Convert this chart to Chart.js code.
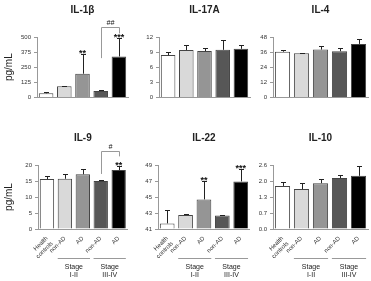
<!DOCTYPE html>
<html>
<head>
<meta charset="utf-8">
<script src="https://cdn.jsdelivr.net/npm/chart.js@4.4.1/dist/chart.umd.min.js"></script>
<style>
    body { margin: 0; background: #fff; }
    #wrap { position: relative; width: 371px; height: 281px; overflow: hidden; }
    canvas { position: absolute; }
</style>
</head>
<body>
<div id="wrap">
    <canvas id="c1"></canvas>
    <canvas id="c2"></canvas>
    <canvas id="c3"></canvas>
    <canvas id="c4"></canvas>
    <canvas id="c5"></canvas>
    <canvas id="c6"></canvas>
</div>
<script>
// Categories (same for every panel)
const categories = [['Health', 'controls'], 'non-AD', 'AD', 'non-AD', 'AD'];
const stageGroups = [
    { from: 1, to: 2, label: ['Stage', 'I-II'] },
    { from: 3, to: 4, label: ['Stage', 'III-IV'] }
];

// IL-1β
const il1bMean = [34, 93, 196, 53, 339];
const il1bErr = [48, 98, 357, 61, 489];
const il1bTicks = [0, 125, 250, 375, 500];
const il1bStars = ['', '', '**', '', '***'];

// IL-17A
const il17aMean = [8.4, 9.4, 9.2, 9.45, 9.65];
const il17aErr = [9.0, 10.35, 9.8, 11.4, 10.4];
const il17aTicks = [0, 3, 6, 9, 12];

// IL-4
const il4Mean = [36.3, 35.0, 38.0, 36.7, 42.5];
const il4Err = [37.8, 35.4, 40.5, 39.5, 46.7];
const il4Ticks = [0, 12, 24, 36, 48];

// IL-9
const il9Mean = [15.6, 15.7, 17.1, 15.0, 18.4];
const il9Err = [16.6, 17.1, 18.6, 15.2, 19.7];
const il9Ticks = [0, 5, 10, 15, 20];
const il9Stars = ['', '', '', '', '**'];

// IL-22
const il22Mean = [41.7, 42.75, 44.7, 42.7, 46.95];
const il22Err = [43.4, 42.87, 47.05, 42.8, 48.5];
const il22Ticks = [41, 43, 45, 47, 49];
const il22Stars = ['', '', '**', '', '***'];

// IL-10
const il10Mean = [1.75, 1.62, 1.86, 2.07, 2.16];
const il10Err = [1.91, 1.86, 2.02, 2.2, 2.56];
const il10Ticks = [0, 0.65, 1.3, 1.95, 2.6];
const il10TickLabels = ['0.0', '0.7', '1.3', '2.0', '2.6'];

// Significance brackets (in data units)
const il1bBracket = { from: 3, to: 4, top: 580, leftEnd: 325, rightEnd: 530, label: '##' };
const il9Bracket = { from: 3, to: 4, top: 24.3, leftEnd: 17.2, rightEnd: 22.7, label: '#' };

const barColors = ['#ffffff', '#d9d9d9', '#959595', '#575757', '#000000'];
const FONT = "'Liberation Sans', Arial, sans-serif";

// Panel layout
const panels = [
    { id: 'c1', left: 0, top: 0, width: 130, axisW: 37, padR: 2, bottomRow: false, yTitle: 'pg/mL',
      title: 'IL-1β', means: il1bMean, errs: il1bErr, ticks: il1bTicks, stars: il1bStars, bracket: il1bBracket },
    { id: 'c2', left: 122, top: 0, width: 130, axisW: 37, padR: 2, bottomRow: false,
      title: 'IL-17A', means: il17aMean, errs: il17aErr, ticks: il17aTicks },
    { id: 'c3', left: 245, top: 0, width: 126, axisW: 28, padR: 3, bottomRow: false,
      title: 'IL-4', means: il4Mean, errs: il4Err, ticks: il4Ticks },
    { id: 'c4', left: 0, top: 128, width: 130, axisW: 38, padR: 1, bottomRow: true, yTitle: 'pg/mL',
      title: 'IL-9', means: il9Mean, errs: il9Err, ticks: il9Ticks, stars: il9Stars, bracket: il9Bracket },
    { id: 'c5', left: 122, top: 128, width: 130, axisW: 36, padR: 2, bottomRow: true,
      title: 'IL-22', means: il22Mean, errs: il22Err, ticks: il22Ticks, stars: il22Stars },
    { id: 'c6', left: 245, top: 128, width: 126, axisW: 28, padR: 3, bottomRow: true,
      title: 'IL-10', means: il10Mean, errs: il10Err, ticks: il10Ticks, tickLabels: il10TickLabels }
];

// Error bars, stars, brackets and stage groups
const extrasPlugin = {
    id: 'extras',
    afterDatasetsDraw(chart, args, o) {
        const ctx = chart.ctx;
        const yScale = chart.scales.y;
        const bars = chart.getDatasetMeta(0).data;
        ctx.save();
        ctx.strokeStyle = '#222';
        ctx.lineWidth = 1;

        bars.forEach((bar, i) => {
            const x = Math.round(bar.x) + 0.5;
            const yTop = Math.round(yScale.getPixelForValue(o.errs[i])) + 0.5;
            ctx.beginPath();
            ctx.moveTo(x, bar.y);
            ctx.lineTo(x, yTop);
            ctx.moveTo(x - 2.5, yTop);
            ctx.lineTo(x + 2.5, yTop);
            ctx.stroke();

            if (o.stars && o.stars[i]) {
                ctx.fillStyle = '#111';
                ctx.font = 'bold 9px ' + FONT;
                ctx.textAlign = 'center';
                ctx.textBaseline = 'alphabetic';
                ctx.fillText(o.stars[i], bar.x, yTop + 1);
            }
        });

        if (o.bracket) {
            const b = o.bracket;
            const xa = Math.round(bars[b.from].x) + 0.5;
            const xb = Math.round(bars[b.to].x) + 0.5;
            const yt = Math.round(yScale.getPixelForValue(b.top)) + 0.5;
            ctx.strokeStyle = '#999';
            ctx.beginPath();
            ctx.moveTo(xa, yScale.getPixelForValue(b.leftEnd));
            ctx.lineTo(xa, yt);
            ctx.lineTo(xb, yt);
            ctx.lineTo(xb, yScale.getPixelForValue(b.rightEnd));
            ctx.stroke();
            ctx.fillStyle = '#111';
            ctx.font = 'italic 7px ' + FONT;
            ctx.textAlign = 'center';
            ctx.textBaseline = 'bottom';
            ctx.fillText(b.label, (xa + xb) / 2, yt - 1);
        }

        if (o.groups) {
            const base = chart.chartArea.bottom;
            o.groups.forEach(g => {
                const a = bars[g.from], c = bars[g.to];
                const x1 = a.x - a.width / 2;
                const x2 = c.x + c.width / 2;
                const yl = Math.round(base + 29) + 0.5;
                ctx.strokeStyle = '#999';
                ctx.beginPath();
                ctx.moveTo(x1, yl);
                ctx.lineTo(x2, yl);
                ctx.stroke();
                ctx.fillStyle = '#222';
                ctx.font = '7px ' + FONT;
                ctx.textAlign = 'center';
                ctx.textBaseline = 'middle';
                ctx.fillText(g.label[0], (x1 + x2) / 2, base + 38);
                ctx.fillText(g.label[1], (x1 + x2) / 2, base + 46);
            });
        }
        ctx.restore();
    }
};

function makePanel(p) {
    const canvas = document.getElementById(p.id);
    const height = p.bottomRow ? 153 : 104;
    canvas.width = p.width;
    canvas.height = height;
    canvas.style.left = p.left + 'px';
    canvas.style.top = p.top + 'px';

    const tickLabels = p.tickLabels || p.ticks.map(String);
    const yMin = p.ticks[0];
    const yMax = p.ticks[p.ticks.length - 1];

    new Chart(canvas, {
        type: 'bar',
        data: {
            labels: categories,
            datasets: [{
                data: p.means,
                base: yMin,
                backgroundColor: barColors,
                borderColor: '#444',
                borderWidth: 1,
                categoryPercentage: 1,
                barPercentage: 0.8
            }]
        },
        options: {
            responsive: false,
            animation: false,
            layout: { padding: { left: 0, right: p.padR, top: 0, bottom: 0 } },
            plugins: {
                legend: { display: false },
                tooltip: { enabled: false },
                title: {
                    display: true,
                    text: p.title,
                    fullSize: false,
                    color: '#222',
                    font: { family: FONT, size: 10, weight: 'bold' },
                    padding: { top: 4, bottom: 21 }
                },
                extras: {
                    errs: p.errs,
                    stars: p.stars,
                    bracket: p.bracket,
                    groups: p.bottomRow ? stageGroups : null
                }
            },
            scales: {
                x: {
                    grid: { display: false, drawTicks: false },
                    border: { display: true, color: '#999' },
                    ticks: {
                        display: p.bottomRow,
                        color: '#333',
                        font: { family: FONT, size: 6 },
                        minRotation: 45,
                        maxRotation: 45,
                        padding: 6,
                        autoSkip: false
                    },
                    afterFit: s => { s.height = p.bottomRow ? 52 : 4; }
                },
                y: {
                    min: yMin,
                    max: yMax,
                    afterBuildTicks: s => { s.ticks = p.ticks.map(v => ({ value: v })); },
                    grid: { drawOnChartArea: false, drawTicks: true, tickLength: 3, color: '#999' },
                    border: { display: true, color: '#999' },
                    ticks: {
                        color: '#333',
                        font: { family: FONT, size: 6 },
                        padding: 3,
                        callback: (v, i) => tickLabels[i]
                    },
                    title: {
                        display: !!p.yTitle,
                        text: p.yTitle || '',
                        color: '#222',
                        font: { family: FONT, size: 10 },
                        padding: { top: 3, bottom: 0 }
                    },
                    afterFit: s => { s.width = p.axisW; }
                }
            }
        },
        plugins: [extrasPlugin]
    });
}

panels.forEach(makePanel);
</script>
</body>
</html>
